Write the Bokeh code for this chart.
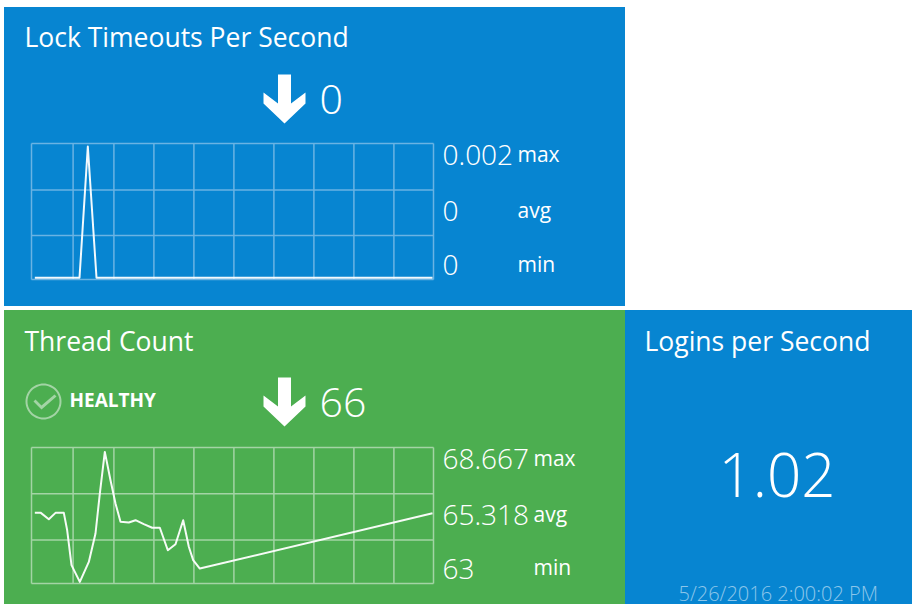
from bokeh.plotting import figure
from bokeh.layouts import column, row
from bokeh.models import Label, PolyAnnotation, Range1d
from bokeh.embed import file_html
from bokeh.resources import INLINE
import numpy as np

BLUE = "#0785d1"
GREEN = "#4cae50"
FONT = "Open Sans"
LIGHT = "Open Sans Light"

grid_x = [0, 1.04, 2.06, 3.06, 4.06, 5.06, 6.06, 7.06, 8.06, 9.06, 10.05]

lock_x = [0.083, 1.2, 1.408, 1.625, 10.025]
lock_y = [0, 0, 0.002, 0, 0]
lock_grid_y = [-0.000026, 0.000644, 0.001337, 0.002046]
lock_stats = ["0.002", "0", "0"]

thread_x = [0.083, 0.225, 0.433, 0.6, 0.808, 0.892, 1.0, 1.208, 1.433, 1.6, 1.708, 1.833, 1.975,
            2.1, 2.225, 2.433, 2.6, 2.808, 3.017, 3.208, 3.408, 3.6, 3.792, 3.933, 4.042, 4.208, 10.025]
thread_y = [66.02, 66.02, 65.73, 66.01, 66.01, 65.25, 63.73, 63.0, 63.87, 65.11, 66.85, 68.667, 67.43,
            66.42, 65.62, 65.59, 65.69, 65.52, 65.36, 65.36, 64.38, 64.64, 65.69, 64.53, 63.95, 63.58, 65.99]
thread_grid_y = [62.93, 64.83, 66.84, 68.86]
thread_stats = ["68.667", "65.318", "63"]

stat_names = ["max", "avg", "min"]


def panel(org, color, chart=None, margin=(0, 0, 0, 0)):
    px, py, w, h = org
    kw = dict(width=w, height=h, toolbar_location=None, output_backend="svg", margin=margin, min_border=0,
              background_fill_color=color, border_fill_color=color, outline_line_color=None,
              styles={"background-color": color})
    if chart:
        # ranges chosen so that the plot box sits at page x 31..433 and page y top..bottom
        gy = chart["gy"]
        sx = grid_x[-1] / (433 - 31)
        sy = (gy[-1] - gy[0]) / (chart["bottom"] - chart["top"])
        kw.update(x_range=Range1d((px - 31) * sx, (px + w - 31) * sx),
                  y_range=Range1d(gy[0] - (py + h - chart["bottom"]) * sy, gy[-1] + (chart["top"] - py) * sy))
    else:
        kw.update(x_range=Range1d(0, 1), y_range=Range1d(0, 1))
    p = figure(**kw)
    p.xaxis.visible = False
    p.yaxis.visible = False
    p.grid.visible = False
    if chart:
        gy = chart["gy"]
        p.segment(x0=grid_x, y0=[gy[0]] * len(grid_x), x1=grid_x, y1=[gy[-1]] * len(grid_x),
                  line_color=chart["grid"], line_width=1.5)
        p.segment(x0=[grid_x[0]] * len(gy), y0=gy, x1=[grid_x[-1]] * len(gy), y1=gy,
                  line_color=chart["grid"], line_width=1.5)
        p.line(chart["x"], chart["y"], line_color="white", line_width=2, line_alpha=0.95, line_join="round")
    return p


def text(p, org, x, y, s, size, font=FONT, style="normal", color="white", alpha=1.0):
    p.add_layout(Label(x=x - org[0], y=org[3] - (y - org[1]) + 0.39 * size, x_units="screen", y_units="screen", text=s,
                       text_font=font, text_font_size=f"{size}px", text_font_style=style,
                       text_color=color, text_alpha=alpha, text_baseline="alphabetic", text_align="left"))


def poly(p, org, xs, ys, color="white", alpha=1.0):
    p.add_layout(PolyAnnotation(xs=[x - org[0] for x in xs], ys=[org[3] - (y - org[1]) for y in ys],
                                xs_units="screen", ys_units="screen", fill_color=color, fill_alpha=alpha,
                                line_color=None, editable=False))


def arrow(p, org, cx, tip):
    dx = [-6.5, 6.5, 6.5, 21, 21, 0, -21, -21, -6.5]
    dy = [-49, -49, -20, -31, -20, 0, -20, -31, -20]
    poly(p, org, [cx + d for d in dx], [tip + d for d in dy])


# Lock timeouts panel
o1 = (4, 7, 621, 299)
p1 = panel(o1, BLUE, dict(top=143, bottom=279, gy=lock_grid_y, grid="#6ab3e3", x=lock_x, y=lock_y),
           margin=(7, 0, 4, 4))
text(p1, o1, 24, 47, "Lock Timeouts Per Second", 26.5)
arrow(p1, o1, 284, 123)
text(p1, o1, 319, 115, "0", 41, LIGHT)
for yv, yn, v, n in zip([165, 221, 275], [162, 218, 272], lock_stats, stat_names):
    text(p1, o1, 442, yv, v, 28, LIGHT)
    text(p1, o1, 517, yn, n, 21)

# Thread count panel
o2 = (4, 310, 621, 294)
p2 = panel(o2, GREEN, dict(top=447, bottom=583, gy=thread_grid_y, grid="#a3d4a5", x=thread_x, y=thread_y),
           margin=(0, 0, 0, 4))
text(p2, o2, 24, 351, "Thread Count", 26.5)
text(p2, o2, 69, 407, "HEALTHY", 19, style="bold")
arrow(p2, o2, 284, 426)
text(p2, o2, 319, 418, "66", 41, LIGHT)
t = np.linspace(0, 2 * np.pi, 61)
ring_x = list(43 + 18 * np.cos(t)) + list(43 + 16 * np.cos(t[::-1]))
ring_y = list(401 + 18 * np.sin(t)) + list(401 + 16 * np.sin(t[::-1]))
poly(p2, o2, ring_x, ring_y, "#a3d4a5")
poly(p2, o2, [33, 35, 41, 54, 56, 41], [401, 399, 405, 394, 396, 409], "#a3d4a5")
for yv, yn, v, n in zip([469, 525, 579], [466, 522, 575], thread_stats, stat_names):
    text(p2, o2, 442, yv, v, 28, LIGHT)
    text(p2, o2, 533, yn, n, 21)

# Logins panel
o3 = (625, 310, 287, 294)
p3 = panel(o3, BLUE)
text(p3, o3, 644, 351, "Logins per Second", 26.5)
text(p3, o3, 718, 498, "1.02", 60, LIGHT)
text(p3, o3, 678, 601, "5/26/2016 2:00:02 PM", 20, LIGHT, color="#8cc6ea")

layout = column(p1, row(p2, p3, spacing=0), spacing=0)
open("out.html", "w").write(file_html(layout, INLINE))
